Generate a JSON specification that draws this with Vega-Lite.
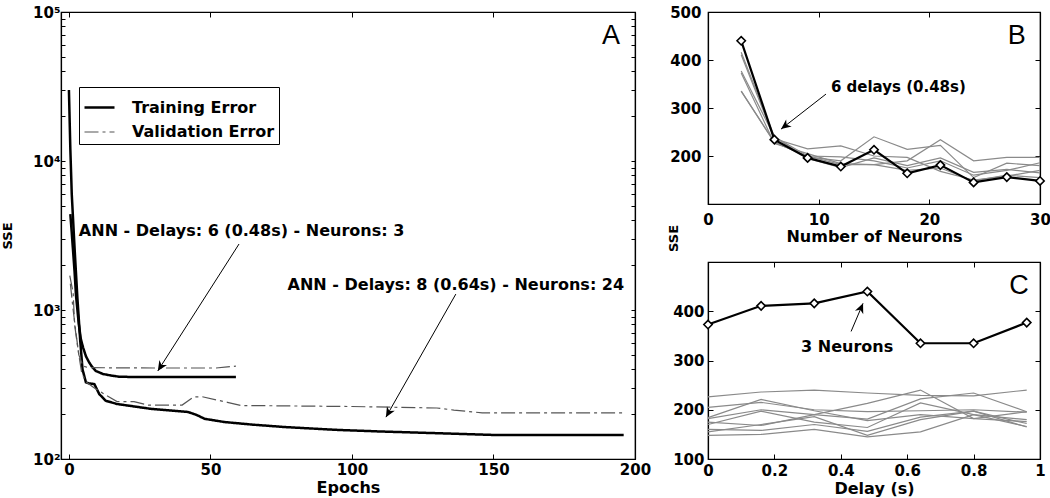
{
  "$schema": "https://vega.github.io/schema/vega-lite/v6.json",
  "background": "white",
  "padding": {"left": 0, "top": 4, "right": 0, "bottom": 0},
  "config": {
    "font": "DejaVu Sans",
    "view": {"stroke": "black", "strokeWidth": 1.2},
    "axis": {
      "grid": false, "domainColor": "black", "domainWidth": 1.2, "tickColor": "black", "tickSize": -5,
      "labelFont": "DejaVu Sans", "labelFontWeight": "bold", "labelFontSize": 15, "labelColor": "black",
      "labelFlush": false, "labelOverlap": false, "labelPadding": 5,
      "titleFont": "DejaVu Sans", "titleFontWeight": "bold", "titleFontSize": 16, "titleColor": "black"
    },
    "text": {"font": "DejaVu Sans"}
  },
  "datasets": {
    "a_lines": [
      {"run": "t3", "type": "Training Error", "epoch": 0.5, "sse": 4400},
      {"run": "t3", "type": "Training Error", "epoch": 1, "sse": 3300},
      {"run": "t3", "type": "Training Error", "epoch": 2, "sse": 1800},
      {"run": "t3", "type": "Training Error", "epoch": 2.5, "sse": 1250},
      {"run": "t3", "type": "Training Error", "epoch": 3, "sse": 1000},
      {"run": "t3", "type": "Training Error", "epoch": 3.5, "sse": 800},
      {"run": "t3", "type": "Training Error", "epoch": 4.2, "sse": 640},
      {"run": "t3", "type": "Training Error", "epoch": 5, "sse": 560},
      {"run": "t3", "type": "Training Error", "epoch": 6, "sse": 490},
      {"run": "t3", "type": "Training Error", "epoch": 7, "sse": 450},
      {"run": "t3", "type": "Training Error", "epoch": 8, "sse": 420},
      {"run": "t3", "type": "Training Error", "epoch": 9.5, "sse": 390},
      {"run": "t3", "type": "Training Error", "epoch": 12, "sse": 372},
      {"run": "t3", "type": "Training Error", "epoch": 15, "sse": 363},
      {"run": "t3", "type": "Training Error", "epoch": 18, "sse": 356},
      {"run": "t3", "type": "Training Error", "epoch": 30, "sse": 355},
      {"run": "t3", "type": "Training Error", "epoch": 59, "sse": 355},
      {"run": "t24", "type": "Training Error", "epoch": 0, "sse": 30000},
      {"run": "t24", "type": "Training Error", "epoch": 0.5, "sse": 12000},
      {"run": "t24", "type": "Training Error", "epoch": 1, "sse": 6000},
      {"run": "t24", "type": "Training Error", "epoch": 2, "sse": 2600},
      {"run": "t24", "type": "Training Error", "epoch": 3, "sse": 1200},
      {"run": "t24", "type": "Training Error", "epoch": 4, "sse": 620},
      {"run": "t24", "type": "Training Error", "epoch": 4.8, "sse": 400},
      {"run": "t24", "type": "Training Error", "epoch": 6, "sse": 327},
      {"run": "t24", "type": "Training Error", "epoch": 7, "sse": 322},
      {"run": "t24", "type": "Training Error", "epoch": 9, "sse": 318},
      {"run": "t24", "type": "Training Error", "epoch": 10.7, "sse": 273},
      {"run": "t24", "type": "Training Error", "epoch": 13, "sse": 246},
      {"run": "t24", "type": "Training Error", "epoch": 17, "sse": 234},
      {"run": "t24", "type": "Training Error", "epoch": 29, "sse": 217},
      {"run": "t24", "type": "Training Error", "epoch": 42, "sse": 207},
      {"run": "t24", "type": "Training Error", "epoch": 45, "sse": 198},
      {"run": "t24", "type": "Training Error", "epoch": 48, "sse": 186},
      {"run": "t24", "type": "Training Error", "epoch": 55, "sse": 177},
      {"run": "t24", "type": "Training Error", "epoch": 65, "sse": 170},
      {"run": "t24", "type": "Training Error", "epoch": 76, "sse": 164},
      {"run": "t24", "type": "Training Error", "epoch": 94, "sse": 157},
      {"run": "t24", "type": "Training Error", "epoch": 110, "sse": 153},
      {"run": "t24", "type": "Training Error", "epoch": 130, "sse": 149},
      {"run": "t24", "type": "Training Error", "epoch": 150, "sse": 145},
      {"run": "t24", "type": "Training Error", "epoch": 196, "sse": 145},
      {"run": "v3", "type": "Validation Error", "epoch": 0.3, "sse": 1700},
      {"run": "v3", "type": "Validation Error", "epoch": 1.5, "sse": 1300},
      {"run": "v3", "type": "Validation Error", "epoch": 2, "sse": 800},
      {"run": "v3", "type": "Validation Error", "epoch": 2.8, "sse": 620},
      {"run": "v3", "type": "Validation Error", "epoch": 3.5, "sse": 500},
      {"run": "v3", "type": "Validation Error", "epoch": 5, "sse": 420},
      {"run": "v3", "type": "Validation Error", "epoch": 7, "sse": 410},
      {"run": "v3", "type": "Validation Error", "epoch": 30, "sse": 408},
      {"run": "v3", "type": "Validation Error", "epoch": 52, "sse": 408},
      {"run": "v3", "type": "Validation Error", "epoch": 56, "sse": 415},
      {"run": "v3", "type": "Validation Error", "epoch": 59, "sse": 420},
      {"run": "v24", "type": "Validation Error", "epoch": 0.5, "sse": 1500},
      {"run": "v24", "type": "Validation Error", "epoch": 1.5, "sse": 1000},
      {"run": "v24", "type": "Validation Error", "epoch": 2.5, "sse": 700},
      {"run": "v24", "type": "Validation Error", "epoch": 3.5, "sse": 500},
      {"run": "v24", "type": "Validation Error", "epoch": 4.5, "sse": 380},
      {"run": "v24", "type": "Validation Error", "epoch": 6, "sse": 330},
      {"run": "v24", "type": "Validation Error", "epoch": 9, "sse": 300},
      {"run": "v24", "type": "Validation Error", "epoch": 12.4, "sse": 273},
      {"run": "v24", "type": "Validation Error", "epoch": 17, "sse": 243},
      {"run": "v24", "type": "Validation Error", "epoch": 23, "sse": 243},
      {"run": "v24", "type": "Validation Error", "epoch": 28, "sse": 230},
      {"run": "v24", "type": "Validation Error", "epoch": 40, "sse": 230},
      {"run": "v24", "type": "Validation Error", "epoch": 44, "sse": 261},
      {"run": "v24", "type": "Validation Error", "epoch": 47, "sse": 262},
      {"run": "v24", "type": "Validation Error", "epoch": 56, "sse": 240},
      {"run": "v24", "type": "Validation Error", "epoch": 61, "sse": 228},
      {"run": "v24", "type": "Validation Error", "epoch": 68, "sse": 228},
      {"run": "v24", "type": "Validation Error", "epoch": 100, "sse": 225},
      {"run": "v24", "type": "Validation Error", "epoch": 130, "sse": 220},
      {"run": "v24", "type": "Validation Error", "epoch": 136, "sse": 213},
      {"run": "v24", "type": "Validation Error", "epoch": 146, "sse": 204},
      {"run": "v24", "type": "Validation Error", "epoch": 196, "sse": 204}
    ],
    "a_notes": [
      {"epoch": 61, "sse": 3390, "label": "ANN - Delays: 6 (0.48s) - Neurons: 3"},
      {"epoch": 136.7, "sse": 1472, "label": "ANN - Delays: 8 (0.64s) - Neurons: 24"}
    ],
    "a_arrows": [
      {"id": "a1", "x": 60.1, "y": 2773, "x2": 31.4, "y2": 390},
      {"id": "a2", "x": 136.7, "y": 1279, "x2": 112, "y2": 191}
    ],
    "a_letter": [{"epoch": 191.5, "sse": 69000, "label": "A"}],
    "grid": [
      {"n": 3, "delay": 0, "sse": 373}, {"n": 3, "delay": 0.16, "sse": 411}, {"n": 3, "delay": 0.32, "sse": 416}, {"n": 3, "delay": 0.48, "sse": 440}, {"n": 3, "delay": 0.64, "sse": 335}, {"n": 3, "delay": 0.8, "sse": 335}, {"n": 3, "delay": 0.96, "sse": 377},
      {"n": 6, "delay": 0, "sse": 226}, {"n": 6, "delay": 0.16, "sse": 236}, {"n": 6, "delay": 0.32, "sse": 240}, {"n": 6, "delay": 0.48, "sse": 234}, {"n": 6, "delay": 0.64, "sse": 229}, {"n": 6, "delay": 0.8, "sse": 228}, {"n": 6, "delay": 0.96, "sse": 240},
      {"n": 9, "delay": 0, "sse": 205}, {"n": 9, "delay": 0.16, "sse": 215}, {"n": 9, "delay": 0.32, "sse": 200}, {"n": 9, "delay": 0.48, "sse": 196}, {"n": 9, "delay": 0.64, "sse": 198}, {"n": 9, "delay": 0.8, "sse": 200}, {"n": 9, "delay": 0.96, "sse": 195},
      {"n": 12, "delay": 0, "sse": 184}, {"n": 12, "delay": 0.16, "sse": 221}, {"n": 12, "delay": 0.32, "sse": 198}, {"n": 12, "delay": 0.48, "sse": 178}, {"n": 12, "delay": 0.64, "sse": 190}, {"n": 12, "delay": 0.8, "sse": 182}, {"n": 12, "delay": 0.96, "sse": 176},
      {"n": 15, "delay": 0, "sse": 182}, {"n": 15, "delay": 0.16, "sse": 200}, {"n": 15, "delay": 0.32, "sse": 190}, {"n": 15, "delay": 0.48, "sse": 213}, {"n": 15, "delay": 0.64, "sse": 240}, {"n": 15, "delay": 0.8, "sse": 182}, {"n": 15, "delay": 0.96, "sse": 196},
      {"n": 18, "delay": 0, "sse": 170}, {"n": 18, "delay": 0.16, "sse": 197}, {"n": 18, "delay": 0.32, "sse": 175}, {"n": 18, "delay": 0.48, "sse": 164}, {"n": 18, "delay": 0.64, "sse": 214}, {"n": 18, "delay": 0.8, "sse": 190}, {"n": 18, "delay": 0.96, "sse": 180},
      {"n": 21, "delay": 0, "sse": 175}, {"n": 21, "delay": 0.16, "sse": 168}, {"n": 21, "delay": 0.32, "sse": 190}, {"n": 21, "delay": 0.48, "sse": 181}, {"n": 21, "delay": 0.64, "sse": 222}, {"n": 21, "delay": 0.8, "sse": 234}, {"n": 21, "delay": 0.96, "sse": 196},
      {"n": 24, "delay": 0, "sse": 148}, {"n": 24, "delay": 0.16, "sse": 150}, {"n": 24, "delay": 0.32, "sse": 160}, {"n": 24, "delay": 0.48, "sse": 145}, {"n": 24, "delay": 0.64, "sse": 155}, {"n": 24, "delay": 0.8, "sse": 190}, {"n": 24, "delay": 0.96, "sse": 166},
      {"n": 27, "delay": 0, "sse": 160}, {"n": 27, "delay": 0.16, "sse": 158}, {"n": 27, "delay": 0.32, "sse": 170}, {"n": 27, "delay": 0.48, "sse": 156}, {"n": 27, "delay": 0.64, "sse": 185}, {"n": 27, "delay": 0.8, "sse": 197}, {"n": 27, "delay": 0.96, "sse": 172},
      {"n": 30, "delay": 0, "sse": 155}, {"n": 30, "delay": 0.16, "sse": 170}, {"n": 30, "delay": 0.32, "sse": 186}, {"n": 30, "delay": 0.48, "sse": 148}, {"n": 30, "delay": 0.64, "sse": 180}, {"n": 30, "delay": 0.8, "sse": 197}, {"n": 30, "delay": 0.96, "sse": 165}
    ],
    "b_notes": [{"n": 17.2, "sse": 344, "label": "6 delays (0.48s)"}],
    "b_arrow": [{"x": 10.66, "y": 329, "x2": 6.6, "y2": 256}],
    "b_letter": [{"n": 27.9, "sse": 450, "label": "B"}],
    "c_notes": [{"delay": 0.419, "sse": 326.5, "label": "3 Neurons"}],
    "c_arrow": [{"x": 0.431, "y": 359, "x2": 0.467, "y2": 416}],
    "c_letter": [{"delay": 0.937, "sse": 451, "label": "C"}]
  },
  "spacing": 73,
  "bounds": "flush",
  "hconcat": [
    {
      "width": 574,
      "height": 447,
      "resolve": {"axis": {"x": "independent", "y": "independent"}},
      "layer": [
        {
          "layer": [
            {
              "data": {"name": "a_lines"},
              "mark": {"type": "line"},
              "encoding": {
                "x": {"field": "epoch", "type": "quantitative", "scale": {"domain": [-2.8, 200], "nice": false, "zero": false},
                      "axis": {"orient": "bottom", "values": [0, 50, 100, 150, 200], "title": "Epochs", "titlePadding": 2, "labelPadding": 8}},
                "y": {"field": "sse", "type": "quantitative", "scale": {"type": "log", "domain": [100, 100000], "nice": false},
                      "axis": {"orient": "left", "title": "SSE", "titleFontSize": 13, "titleX": -47,
                               "values": [100, 200, 300, 400, 500, 600, 700, 800, 900, 1000, 2000, 3000, 4000, 5000, 6000, 7000, 8000, 9000, 10000, 20000, 30000, 40000, 50000, 60000, 70000, 80000, 90000, 100000],
                               "labelExpr": "datum.value == 100 ? '10²' : datum.value == 1000 ? '10³' : datum.value == 10000 ? '10⁴' : datum.value == 100000 ? '10⁵' : ''",
                               "tickSize": -4}},
                "detail": {"field": "run"},
                "color": {"field": "type", "type": "nominal",
                          "scale": {"domain": ["Training Error", "Validation Error"], "range": ["black", "#555555"]},
                          "legend": {"orient": "none", "legendX": 18, "legendY": 75, "title": null, "fillColor": "white", "strokeColor": "black",
                                     "padding": 4, "symbolType": "stroke", "symbolSize": 900, "labelFontSize": 16, "labelFontWeight": "bold",
                                     "labelFont": "DejaVu Sans", "labelColor": "black", "rowPadding": 0, "labelOffset": 16}},
                "strokeDash": {"field": "type", "type": "nominal", "scale": {"domain": ["Training Error", "Validation Error"], "range": [[1, 0], [14, 4, 3, 4]]}},
                "strokeWidth": {"field": "type", "type": "nominal", "scale": {"domain": ["Training Error", "Validation Error"], "range": [2.5, 1.2]}}
              }
            },
            {
              "data": {"name": "a_arrows"},
              "mark": {"type": "rule", "color": "black", "strokeWidth": 1},
              "encoding": {
                "x": {"field": "x", "type": "quantitative"},
                "y": {"field": "y", "type": "quantitative"},
                "x2": {"field": "x2"},
                "y2": {"field": "y2"}
              }
            },
            {
              "data": {"name": "a_arrows"},
              "transform": [{"filter": "datum.id == 'a1'"}],
              "mark": {"type": "point", "shape": "M0,0 L-0.45,1 L0,0.7 L0.45,1 Z", "filled": true, "color": "black", "size": 400, "angle": 212.5, "opacity": 1},
              "encoding": {
                "x": {"field": "x2", "type": "quantitative"},
                "y": {"field": "y2", "type": "quantitative"}
              }
            },
            {
              "data": {"name": "a_arrows"},
              "transform": [{"filter": "datum.id == 'a2'"}],
              "mark": {"type": "point", "shape": "M0,0 L-0.45,1 L0,0.7 L0.45,1 Z", "filled": true, "color": "black", "size": 400, "angle": 209.6, "opacity": 1},
              "encoding": {
                "x": {"field": "x2", "type": "quantitative"},
                "y": {"field": "y2", "type": "quantitative"}
              }
            },
            {
              "data": {"name": "a_notes"},
              "mark": {"type": "text", "font": "DejaVu Sans", "fontWeight": "bold", "fontSize": 16, "color": "black"},
              "encoding": {
                "x": {"field": "epoch", "type": "quantitative"},
                "y": {"field": "sse", "type": "quantitative"},
                "text": {"field": "label"}
              }
            }
          ]
        },
        {
          "data": {"name": "a_letter"},
          "mark": {"type": "text", "font": "Liberation Sans", "fontSize": 27, "color": "black"},
          "encoding": {
            "x": {"field": "epoch", "type": "quantitative", "scale": {"domain": [-2.8, 200], "nice": false, "zero": false},
                  "axis": {"orient": "top", "labels": false, "title": null, "values": [0, 50, 100, 150, 200]}},
            "y": {"field": "sse", "type": "quantitative", "scale": {"type": "log", "domain": [100, 100000], "nice": false},
                  "axis": {"orient": "right", "labels": false, "title": null, "tickSize": -4,
                           "values": [100, 200, 300, 400, 500, 600, 700, 800, 900, 1000, 2000, 3000, 4000, 5000, 6000, 7000, 8000, 9000, 10000, 20000, 30000, 40000, 50000, 60000, 70000, 80000, 90000, 100000]}},
            "text": {"field": "label"}
          }
        }
      ]
    },
    {
      "spacing": 58,
      "bounds": "flush",
      "vconcat": [
        {
          "width": 332,
          "height": 192,
          "resolve": {"axis": {"x": "independent", "y": "independent"}},
          "layer": [
            {
              "layer": [
                {
                  "data": {"name": "grid"},
                  "transform": [{"filter": "datum.delay != 0.48"}],
                  "mark": {"type": "line", "color": "#8a8a8a", "strokeWidth": 1.2},
                  "encoding": {
                    "x": {"field": "n", "type": "quantitative", "scale": {"domain": [0, 30], "nice": false, "zero": false},
                          "axis": {"orient": "bottom", "values": [0, 10, 20, 30], "title": "Number of Neurons", "titlePadding": 1, "labelPadding": 13}},
                    "y": {"field": "sse", "type": "quantitative", "scale": {"domain": [100, 500], "nice": false, "zero": false},
                          "axis": {"orient": "left", "values": [200, 300, 400, 500], "title": "SSE", "titleFontSize": 13, "titleX": -28, "titleY": 226, "labelPadding": 12}},
                    "detail": {"field": "delay"}
                  }
                },
                {
                  "data": {"name": "grid"},
                  "transform": [{"filter": "datum.delay == 0.48"}],
                  "mark": {"type": "line", "color": "black", "strokeWidth": 2.2,
                           "point": {"shape": "diamond", "filled": true, "fill": "white", "stroke": "black", "strokeWidth": 1.6, "size": 70}},
                  "encoding": {
                    "x": {"field": "n", "type": "quantitative"},
                    "y": {"field": "sse", "type": "quantitative"}
                  }
                },
                {
                  "data": {"name": "b_arrow"},
                  "mark": {"type": "rule", "color": "black", "strokeWidth": 1},
                  "encoding": {
                    "x": {"field": "x", "type": "quantitative"},
                    "y": {"field": "y", "type": "quantitative"},
                    "x2": {"field": "x2"},
                    "y2": {"field": "y2"}
                  }
                },
                {
                  "data": {"name": "b_arrow"},
                  "mark": {"type": "point", "shape": "M0,0 L-0.45,1 L0,0.7 L0.45,1 Z", "filled": true, "color": "black", "size": 400, "angle": 232, "opacity": 1},
                  "encoding": {
                    "x": {"field": "x2", "type": "quantitative"},
                    "y": {"field": "y2", "type": "quantitative"}
                  }
                },
                {
                  "data": {"name": "b_notes"},
                  "mark": {"type": "text", "font": "DejaVu Sans", "fontWeight": "bold", "fontSize": 15, "color": "black"},
                  "encoding": {
                    "x": {"field": "n", "type": "quantitative"},
                    "y": {"field": "sse", "type": "quantitative"},
                    "text": {"field": "label"}
                  }
                }
              ]
            },
            {
              "data": {"name": "b_letter"},
              "mark": {"type": "text", "font": "Liberation Sans", "fontSize": 27, "color": "black"},
              "encoding": {
                "x": {"field": "n", "type": "quantitative", "scale": {"domain": [0, 30], "nice": false, "zero": false},
                      "axis": {"orient": "top", "labels": false, "title": null, "values": [0, 10, 20, 30]}},
                "y": {"field": "sse", "type": "quantitative", "scale": {"domain": [100, 500], "nice": false, "zero": false},
                      "axis": {"orient": "right", "labels": false, "title": null, "values": [100, 200, 300, 400, 500]}},
                "text": {"field": "label"}
              }
            }
          ]
        },
        {
          "width": 332,
          "height": 197,
          "resolve": {"axis": {"x": "independent", "y": "independent"}},
          "layer": [
            {
              "layer": [
                {
                  "data": {"name": "grid"},
                  "transform": [{"filter": "datum.n != 3"}],
                  "mark": {"type": "line", "color": "#8a8a8a", "strokeWidth": 1.2},
                  "encoding": {
                    "x": {"field": "delay", "type": "quantitative", "scale": {"domain": [0, 1], "nice": false, "zero": false},
                          "axis": {"orient": "bottom", "values": [0, 0.2, 0.4, 0.6, 0.8, 1], "format": "~g", "title": "Delay (s)", "titlePadding": 2, "labelPadding": 9}},
                    "y": {"field": "sse", "type": "quantitative", "scale": {"domain": [100, 500], "nice": false, "zero": false},
                          "axis": {"orient": "left", "values": [100, 200, 300, 400], "title": null, "labelPadding": 9}},
                    "detail": {"field": "n"}
                  }
                },
                {
                  "data": {"name": "grid"},
                  "transform": [{"filter": "datum.n == 3"}],
                  "mark": {"type": "line", "color": "black", "strokeWidth": 2.2,
                           "point": {"shape": "diamond", "filled": true, "fill": "white", "stroke": "black", "strokeWidth": 1.6, "size": 70}},
                  "encoding": {
                    "x": {"field": "delay", "type": "quantitative"},
                    "y": {"field": "sse", "type": "quantitative"}
                  }
                },
                {
                  "data": {"name": "c_arrow"},
                  "mark": {"type": "rule", "color": "black", "strokeWidth": 1},
                  "encoding": {
                    "x": {"field": "x", "type": "quantitative"},
                    "y": {"field": "y", "type": "quantitative"},
                    "x2": {"field": "x2"},
                    "y2": {"field": "y2"}
                  }
                },
                {
                  "data": {"name": "c_arrow"},
                  "mark": {"type": "point", "shape": "M0,0 L-0.45,1 L0,0.7 L0.45,1 Z", "filled": true, "color": "black", "size": 400, "angle": 23.2, "opacity": 1},
                  "encoding": {
                    "x": {"field": "x2", "type": "quantitative"},
                    "y": {"field": "y2", "type": "quantitative"}
                  }
                },
                {
                  "data": {"name": "c_notes"},
                  "mark": {"type": "text", "font": "DejaVu Sans", "fontWeight": "bold", "fontSize": 16, "color": "black"},
                  "encoding": {
                    "x": {"field": "delay", "type": "quantitative"},
                    "y": {"field": "sse", "type": "quantitative"},
                    "text": {"field": "label"}
                  }
                }
              ]
            },
            {
              "data": {"name": "c_letter"},
              "mark": {"type": "text", "font": "Liberation Sans", "fontSize": 27, "color": "black"},
              "encoding": {
                "x": {"field": "delay", "type": "quantitative", "scale": {"domain": [0, 1], "nice": false, "zero": false},
                      "axis": {"orient": "top", "labels": false, "title": null, "values": [0, 0.2, 0.4, 0.6, 0.8, 1]}},
                "y": {"field": "sse", "type": "quantitative", "scale": {"domain": [100, 500], "nice": false, "zero": false},
                      "axis": {"orient": "right", "labels": false, "title": null, "values": [100, 200, 300, 400, 500]}},
                "text": {"field": "label"}
              }
            }
          ]
        }
      ]
    }
  ]
}
